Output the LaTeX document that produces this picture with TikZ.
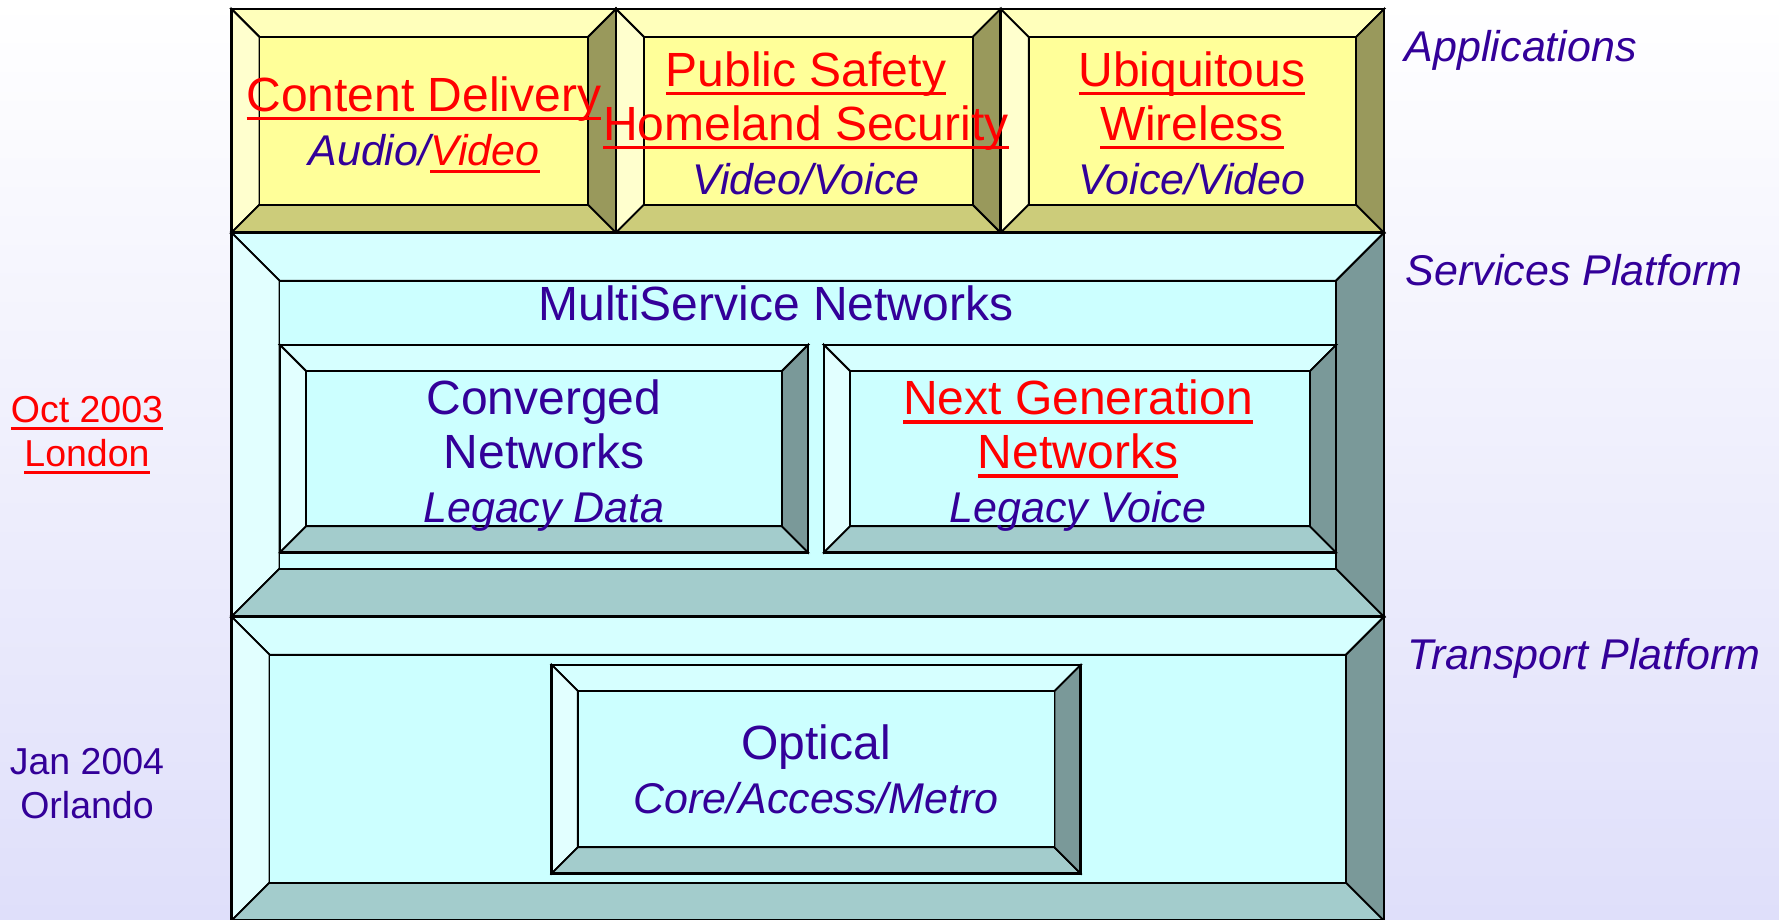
\documentclass[tikz,border=0pt]{standalone}
\usepackage{fontspec}
\setmainfont{Liberation Sans}
\usepackage{xcolor}
\usetikzlibrary{calc}

\definecolor{ink}{RGB}{51,0,153}
\definecolor{linkred}{RGB}{255,0,0}
\definecolor{paperlow}{RGB}{223,223,250}
\definecolor{yface}{RGB}{255,255,153}
\definecolor{ytop}{RGB}{255,255,187}
\definecolor{yleft}{RGB}{255,255,206}
\definecolor{ybot}{RGB}{204,204,122}
\definecolor{yright}{RGB}{153,153,92}
\definecolor{cface}{RGB}{204,255,255}
\definecolor{ctop}{RGB}{214,255,255}
\definecolor{cleft}{RGB}{226,255,255}
\definecolor{cbot}{RGB}{163,204,204}
\definecolor{cright}{RGB}{122,153,153}

\newsavebox\ulbox
\newcommand\ulink[1]{{\color{linkred}\sbox\ulbox{#1}\rlap{\rule[-0.19em]{\wd\ulbox}{0.075em}}\usebox\ulbox}}
\newcommand\subline{\fontsize{43}{54}\selectfont\itshape}

\newcommand\bevelbox[6]{%
    \filldraw[fill=#1top] (#2,#3) -- (#4,#3) -- ({#4-#6},{#3+#6}) -- ({#2+#6},{#3+#6}) -- cycle;
    \filldraw[fill=#1left] (#2,#3) -- ({#2+#6},{#3+#6}) -- ({#2+#6},{#5-#6}) -- (#2,#5) -- cycle;
    \filldraw[fill=#1bot] (#2,#5) -- ({#2+#6},{#5-#6}) -- ({#4-#6},{#5-#6}) -- (#4,#5) -- cycle;
    \filldraw[fill=#1right] (#4,#3) -- (#4,#5) -- ({#4-#6},{#5-#6}) -- ({#4-#6},{#3+#6}) -- cycle;
    \filldraw[fill=#1face] ({#2+#6},{#3+#6}) rectangle ({#4-#6},{#5-#6});
    \draw[line width=2.8pt] (#2,#3) rectangle (#4,#5);
}

\begin{document}
\begin{tikzpicture}[x=1pt, y=-1pt, line width=1.8pt,
    boxtext/.style={font=\fontsize{48}{54}\selectfont, text=ink, align=center, anchor=base, inner sep=0pt},
    layer/.style={font=\fontsize{43}{50}\selectfont\itshape, text=ink, anchor=base west, inner sep=0pt},
    date/.style={font=\fontsize{37.5}{44}\selectfont, text=ink, align=center, anchor=base, inner sep=0pt}]
    \useasboundingbox (0,0) rectangle (1779,919);
    \shade[top color=white, bottom color=paperlow] (0,0) rectangle (1779,919);

    \bevelbox{y}{231.5}{9}{616}{232.7}{28}
    \bevelbox{y}{616}{9}{1000.7}{232.7}{28}
    \bevelbox{y}{1000.7}{9}{1384}{232.7}{28}
    \bevelbox{c}{231.5}{232.7}{1384}{616.7}{48}
    \bevelbox{c}{280}{345}{808}{552.3}{26}
    \bevelbox{c}{824}{345}{1336}{552.3}{26}
    \bevelbox{c}{231.5}{616.7}{1384}{920.7}{38}
    \bevelbox{c}{551.8}{665}{1080.5}{873.3}{26}

    \node[boxtext] (content) at (424,165) {\ulink{Content Delivery}\\{\subline Audio/\ulink{Video}}};
    \node[boxtext] (safety) at (806,194) {\ulink{Public Safety}\\\ulink{Homeland Security}\\{\subline Video/Voice}};
    \node[boxtext] (wireless) at (1192,194) {\ulink{Ubiquitous}\\\ulink{Wireless}\\{\subline Voice/Video}};
    \node[boxtext] (multi) at (776,320) {MultiService Networks};
    \node[boxtext] (converged) at (544,522.7) {Converged\\Networks\\{\subline Legacy Data}};
    \node[boxtext] (nextgen) at (1078,522.7) {\ulink{Next Generation}\\\ulink{Networks}\\{\subline Legacy Voice}};
    \node[boxtext] (optical) at (816,813.3) {Optical\\{\subline Core/Access/Metro}};

    \node[layer] (apps) at (1404,61) {Applications};
    \node[layer] (services) at (1405,285) {Services Platform};
    \node[layer] (transport) at (1407,669) {Transport Platform};

    \node[date] (london) at (87,466.7) {\ulink{Oct 2003}\\\ulink{London}};
    \node[date] (orlando) at (87,818.3) {Jan 2004\\Orlando};
\end{tikzpicture}
\end{document}
